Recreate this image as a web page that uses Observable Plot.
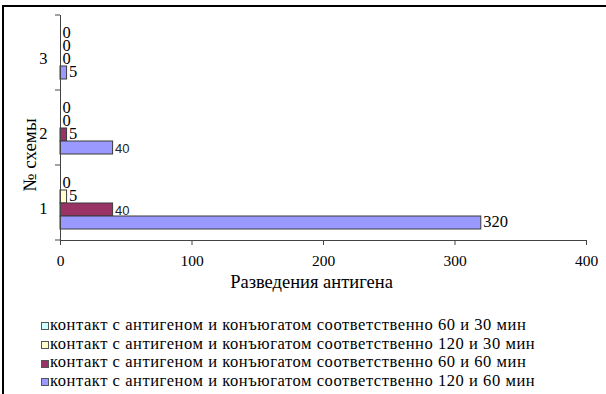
<!DOCTYPE html>
<html><head><meta charset="utf-8">
<script src="https://cdn.jsdelivr.net/npm/d3@7"></script>
<script src="https://cdn.jsdelivr.net/npm/@observablehq/plot@0.6"></script>
<style>
html,body{margin:0;padding:0;background:#fff;}
#box{position:absolute;left:2px;top:5px;width:604px;height:389px;border-top:2px solid #000;border-left:2px solid #000;box-sizing:border-box;}
#chart{position:absolute;left:0;top:0;}
#legend{position:absolute;left:41px;top:316px;font-family:"Liberation Serif","Times New Roman","DejaVu Serif",serif;font-size:16.5px;letter-spacing:0.56px;color:#000;}
.row{height:18.7px;line-height:18.7px;white-space:nowrap;display:flex;align-items:center;}
.sw{display:inline-block;width:6px;height:6px;border:1px solid #555;margin-right:1px;margin-top:2px;}
#ylabel{position:absolute;left:29px;top:155px;transform:translate(-50%,-50%) rotate(-90deg);font-family:"Liberation Serif","Times New Roman","DejaVu Serif",serif;font-size:19px;white-space:nowrap;line-height:1;color:#000;}
</style></head>
<body>
<div id="box"></div>
<div id="chart"></div>
<div id="ylabel"></div>
<div id="legend"></div>
<script>
const groups = ["1", "2", "3"];
const seriesNames = [
  "контакт с антигеном и конъюгатом соответственно 60 и 30 мин",
  "контакт с антигеном и конъюгатом соответственно 120 и 30 мин",
  "контакт с антигеном и конъюгатом соответственно 60 и 60 мин",
  "контакт с антигеном и конъюгатом соответственно 120 и 60 мин"
];
const seriesColors = ["#CCFFFF", "#FFFFCC", "#993366", "#9999FF"];
const values60_30 = [0, 0, 0];
const values120_30 = [5, 0, 0];
const values60_60 = [40, 5, 0];
const values120_60 = [320, 40, 5];
const xTicks = [0, 100, 200, 300, 400];
const xLabel = "Разведения антигена";
const yLabel = "№ схемы";

const seriesValues = [values60_30, values120_30, values60_60, values120_60];
const data = groups.flatMap((g, gi) => seriesNames.map((s, si) => ({group: g, series: s, value: seriesValues[si][gi]})));

const serif = "'Liberation Serif', 'Times New Roman', 'DejaVu Serif', serif";
const sans = "'Liberation Sans', Arial, sans-serif";
const plot = Plot.plot({
  width: 600, height: 300,
  marginLeft: 60, marginRight: 14, marginTop: 15, marginBottom: 60,
  style: {fontFamily: serif, fontSize: "15px", background: "transparent", overflow: "visible", color: "#000"},
  x: {domain: [0, 400], ticks: xTicks},
  y: {domain: seriesNames, axis: null, paddingInner: 0, paddingOuter: 0.68},
  fy: {domain: ["3", "2", "1"], padding: 0},
  color: {domain: seriesNames, range: seriesColors},
  marks: [
    Plot.barX(data, {x: "value", y: "series", fy: "group", fill: "series", stroke: "#3a3a3a", strokeWidth: 1}),
    Plot.text(data.filter(d => d.value !== 40), {x: "value", y: "series", fy: "group", text: d => String(d.value), textAnchor: "start", dx: 2, dy: -1, fontSize: 16.5, fontFamily: serif, fill: "#000"}),
    Plot.text(data.filter(d => d.value === 40), {x: "value", y: "series", fy: "group", text: d => String(d.value), textAnchor: "start", dx: 2, dy: 1, fontSize: 13, fontFamily: sans, fill: "#222"}),
    Plot.ruleX([0], {stroke: "#444", strokeWidth: 1}),
    Plot.frame({anchor: "bottom", facetAnchor: "bottom", stroke: "#444", strokeWidth: 1}),
    Plot.axisX({anchor: "bottom", ticks: xTicks, tickSize: 5, tickPadding: 9, stroke: "#444", label: null, fontSize: 15.5, fontFamily: serif}),
    Plot.axisFy({anchor: "left", tickSize: 0, tickPadding: 13, dy: 6, label: null, fontSize: 16.5, fontFamily: serif}),
    Plot.text([{g: "1", t: xLabel}], {fy: "g", text: "t", frameAnchor: "bottom", dx: -12, dy: 47, fontSize: 18.5, fontFamily: serif, fill: "#000"})
  ]
});
document.getElementById("chart").appendChild(plot);
document.getElementById("ylabel").textContent = yLabel;

const fyScale = plot.scale("fy");
const fyBand = d3.scaleBand().domain(fyScale.domain).range(fyScale.range).padding(0);
const xScale = plot.scale("x");
const x0 = xScale.apply(0);
const svg = d3.select(plot.tagName.toLowerCase() === "svg" ? plot : plot.querySelector("svg"));
const edges = fyScale.domain.map(d => fyBand(d)).concat([fyBand(fyScale.domain[fyScale.domain.length - 1]) + fyBand.bandwidth()]);
svg.append("g").attr("stroke", "#444").selectAll("line").data(edges).join("line")
  .attr("x1", x0 - 5).attr("x2", x0).attr("y1", d => d).attr("y2", d => d);

const legend = d3.select("#legend");
seriesNames.forEach((s, i) => {
  const row = legend.append("div").attr("class", "row");
  row.append("span").attr("class", "sw").style("background", seriesColors[i]);
  row.append("span").text(s);
});
</script>
</body></html>
